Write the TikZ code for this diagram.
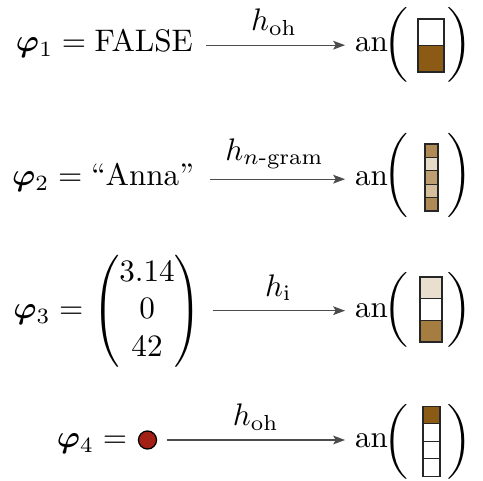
\documentclass[tikz,border=0pt]{standalone}
\usepackage{amsmath,bm,graphicx}
\usetikzlibrary{arrows.meta}
\definecolor{brownD}{RGB}{139,90,20}
\definecolor{bA}{RGB}{176,138,86}
\definecolor{bB}{RGB}{230,218,198}
\definecolor{bC}{RGB}{190,158,112}
\definecolor{bD}{RGB}{214,190,156}
\definecolor{bE}{RGB}{232,223,207}
\definecolor{bF}{RGB}{166,125,64}
\definecolor{dotred}{RGB}{163,32,22}
\tikzset{
  txt/.style={inner sep=0pt, outer sep=0pt},
  arr/.style={draw=black!70, line width=0.4pt, -{Stealth[length=3.8pt,width=2.8pt,inset=0.8pt]}},
  cell/.style={draw=black!85, line width=0.35pt},
  paren/.style={inner sep=0pt, outer sep=0pt},
  lab/.style={above, inner sep=3pt}
}
\newcommand{\lpar}[1]{\scalebox{1}[#1]{$\Bigg($}}
\newcommand{\rpar}[1]{\scalebox{1}[#1]{$\Bigg)$}}
\begin{document}
\begin{tikzpicture}[x=0.321pt,y=-0.321pt]
\useasboundingbox (0,0) rectangle (483,481);
% ---------- row 1
\node[txt, anchor=base east] (l1) at (193,52) {$\bm{\varphi}_1 = \mathrm{FALSE}$};
\node[txt, anchor=base west] (a1) at (355,52) {an};
\node[paren] (lp1) at (395.5,45) {\lpar{0.8}};
\node[paren] (rp1) at (460,45) {\rpar{0.8}};
\draw[arr, shorten <=4.2pt, shorten >=3.2pt] (l1.east |- a1.center) -- (a1.west) node[midway, lab] {$h_{\mathrm{oh}}$};
\foreach \c [count=\i from 0] in {white,brownD}
  \draw[cell, fill=\c] (418,{19+\i*26.5}) rectangle (444,{19+(\i+1)*26.5});
% ---------- row 2
\node[txt, anchor=base east] (l2) at (194,186) {$\bm{\varphi}_2 = \text{``Anna''}$};
\node[txt, anchor=base west] (a2) at (355,186) {an};
\node[paren] (lp2) at (395.5,175) {\lpar{0.9}};
\node[paren] (rp2) at (460,175) {\rpar{0.9}};
\draw[arr, shorten <=5.2pt, shorten >=3.2pt] (l2.east |- a2.center) -- (a2.west) node[midway, lab] {$h_{n\text{-gram}}$};
\foreach \c [count=\i from 0] in {bA,bB,bC,bD,bA}
  \draw[cell, fill=\c] (425,{144+\i*13.4}) rectangle (438,{144+(\i+1)*13.4});
% ---------- row 3
\node[txt, anchor=base east] (l3) at (202,319) {$\bm{\varphi}_3 = \begin{pmatrix}3.14\\0\\42\end{pmatrix}$};
\node[txt, anchor=base west] (a3) at (355,317.5) {an};
\node[paren] (lp3) at (395.5,310) {\lpar{0.8}};
\node[paren] (rp3) at (460,310) {\rpar{0.8}};
\draw[arr, shorten <=3.4pt, shorten >=3.2pt] (l3.east |- a3.center) -- (a3.west) node[midway, lab] {$h_{\mathrm{i}}$};
\foreach \c [count=\i from 0] in {bE,white,bF}
  \draw[cell, fill=\c] (420,{277+\i*21.67}) rectangle (442,{277+(\i+1)*21.67});
% ---------- row 4
\node[txt, anchor=base east] (l4) at (127,447.5) {$\bm{\varphi}_4 =$};
\node[circle, draw=black, line width=0.4pt, fill=dotred, inner sep=0pt, minimum size=5.8pt, outer sep=0pt] (c4) at (147.5,440) {};
\node[txt, anchor=base west] (a4) at (355,447.5) {an};
\node[paren] (lp4) at (395.5,442) {\lpar{0.8}};
\node[paren] (rp4) at (460,442) {\rpar{0.8}};
\draw[arr, shorten <=3.4pt, shorten >=3.2pt] (c4.east) -- (c4.east -| a4.west) node[midway, lab] {$h_{\mathrm{oh}}$};
\foreach \c [count=\i from 0] in {brownD,white,white,white}
  \draw[cell, fill=\c] (423,{406.5+\i*17.4}) rectangle (440,{406.5+(\i+1)*17.4});
\end{tikzpicture}
\end{document}
